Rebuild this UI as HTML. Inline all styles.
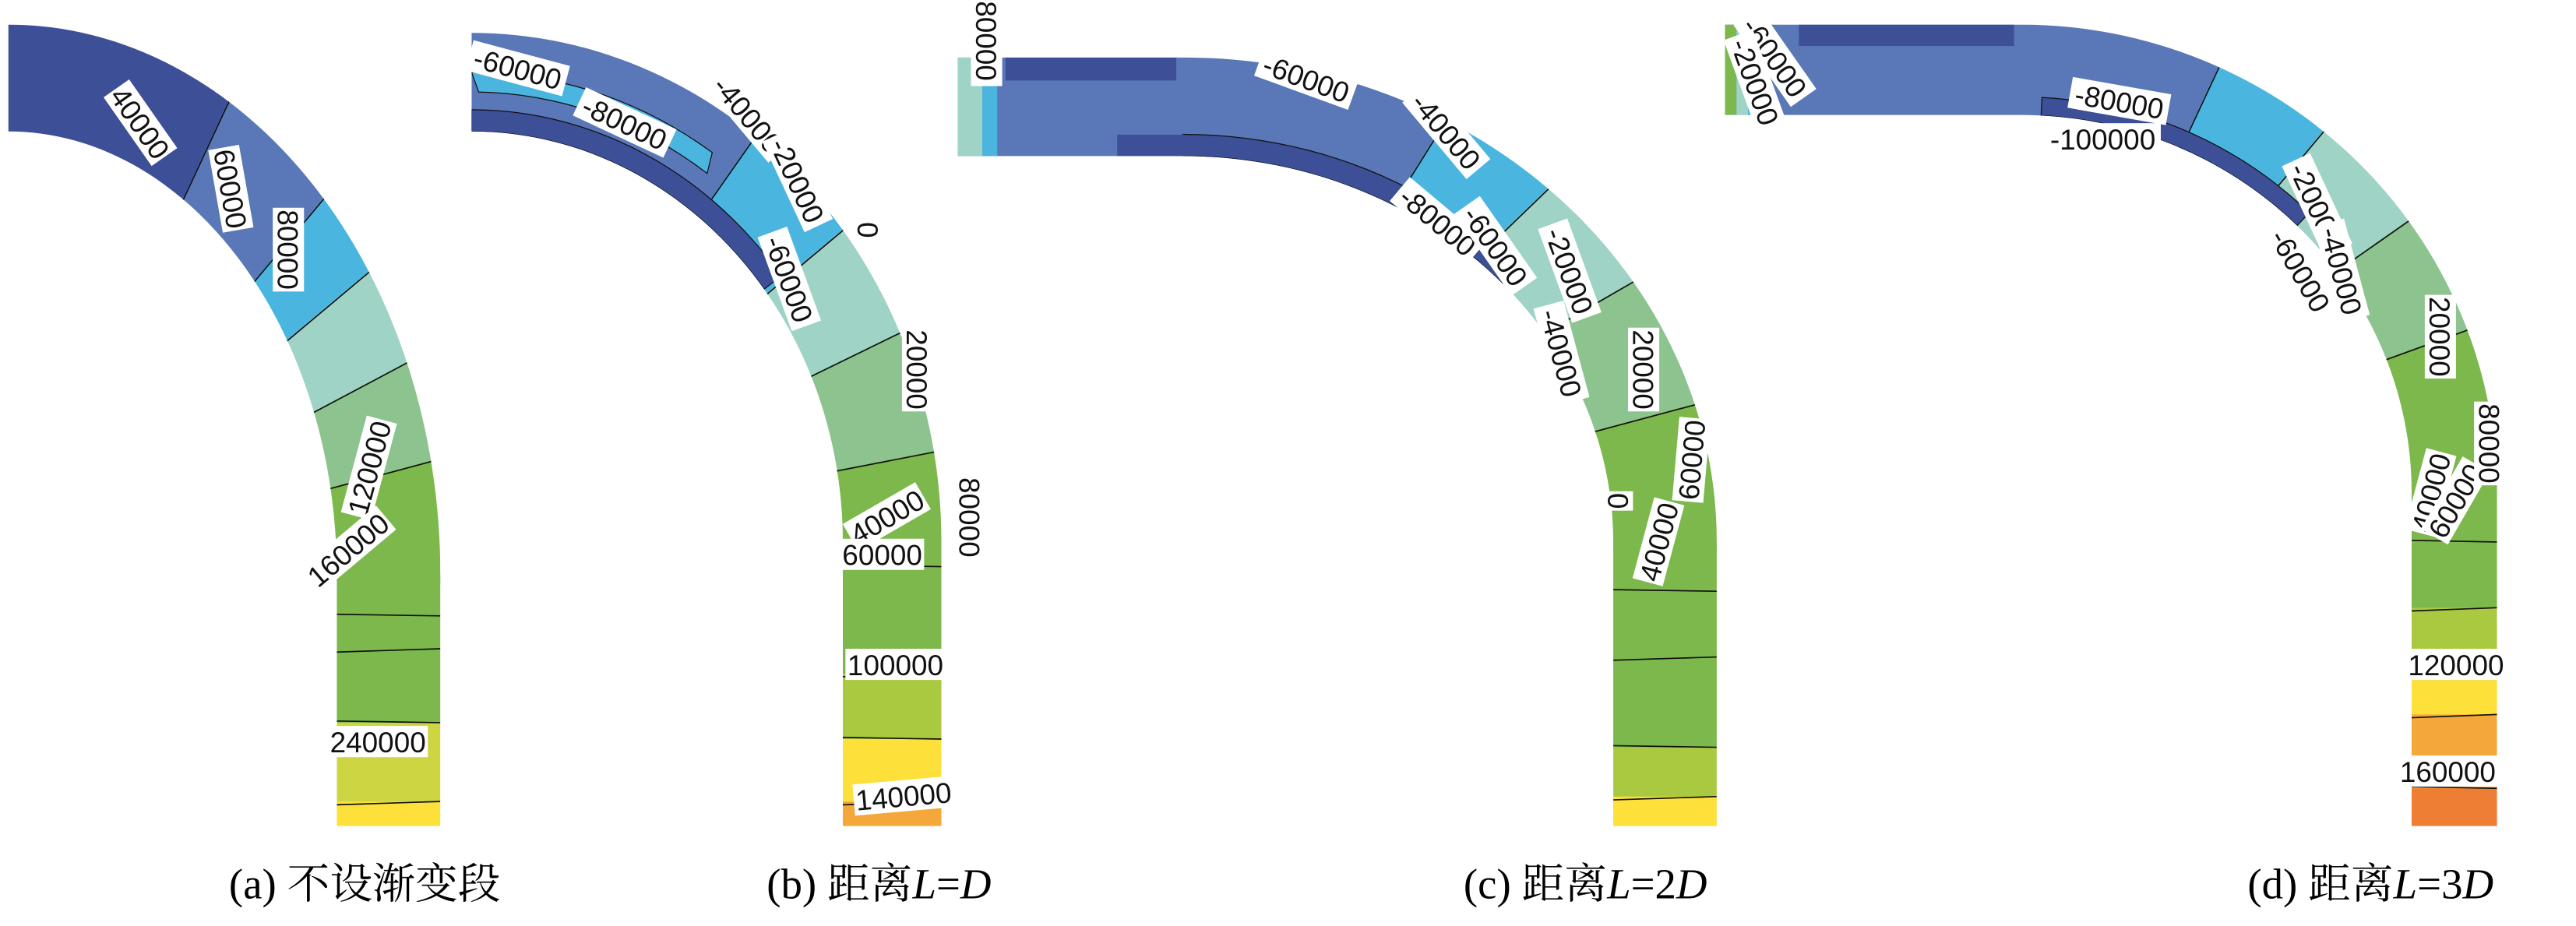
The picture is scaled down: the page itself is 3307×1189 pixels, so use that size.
<!DOCTYPE html>
<html><head><meta charset="utf-8">
<style>
html,body{margin:0;padding:0;background:#fff;}
svg{display:block;}
</style></head>
<body>
<svg id="s" width="3307" height="1189" viewBox="0 0 1568 563.8" xmlns="http://www.w3.org/2000/svg">
<rect width="1568" height="564" fill="#fff"/>
<g id="g"></g>
<g font-family="'Liberation Serif','Noto Serif CJK SC',serif" font-size="26" fill="#000" text-anchor="middle">
<text x="222" y="547">(a) 不设渐变段</text>
<text x="535" y="547">(b) 距离<tspan font-style="italic">L</tspan>=<tspan font-style="italic">D</tspan></text>
<text x="965" y="547">(c) 距离<tspan font-style="italic">L</tspan>=2<tspan font-style="italic">D</tspan></text>
<text x="1443" y="547">(d) 距离<tspan font-style="italic">L</tspan>=3<tspan font-style="italic">D</tspan></text>
</g>
</svg>
<script>
const NS="http://www.w3.org/2000/svg";
const G=document.getElementById('g');
const C={db:"#3d4f96",mb:"#5a78b8",lb:"#4ab6e0",te:"#9fd3c6",lg:"#8dc38e",gr:"#7cb84c",yg:"#a9c940",yl2:"#cdd542",ye:"#fde03a",or:"#f5a83a",do:"#ee7e34"};
function el(t,a,p){const e=document.createElementNS(NS,t);for(const k in a)e.setAttribute(k,a[k]);(p||G).appendChild(e);return e;}
const panels=[
 {id:'a',cx:5,cy:350,rxo:263,ryo:335,rxi:200,ryi:270,x0:5,bot:503,
  wedges:[[-90,25,C.db],[25,40,C.mb],[40,50,C.lb],[50,62,C.te],[62,75,C.lg],[75,91,C.gr]],
  strips:[],rects:[],
  bands:[[350,440,C.gr],[440,488,C.yl2],[488,503,C.ye]],hl:[375,395,440,488]},
 {id:'b',cx:287,cy:330,rxo:286,ryo:310,rxi:226,ryi:250,x0:287,bot:503,
  wedges:[[-90,35,C.mb],[35,50,C.lb],[50,64,C.te],[64,79,C.lg],[79,91,C.gr]],
  strips:[[0,52,0,22,C.db],[0,35,40,60,C.lb]],rects:[],
  bands:[[330,410,C.gr],[410,450,C.yg],[450,488,C.ye],[488,503,C.or]],hl:[345,410,450,488]},
 {id:'c',cx:720,cy:330,rxo:325,ryo:295,rxi:262,ryi:235,x0:583,bot:503,
  wedges:[[-90,32,C.mb],[32,46,C.lb],[46,60,C.te],[60,75,C.lg],[75,91,C.gr]],
  strips:[[0,48,0,22,C.db]],
  rects:[[583,598,35,95,C.te],[598,607,35,95,C.lb],[612,716,35,49,C.db],[680,721,82,95,C.db]],
  bands:[[330,455,C.gr],[455,485,C.yg],[485,503,C.ye]],hl:[360,400,455,485]},
 {id:'d',cx:1230,cy:300,rxo:290,ryo:285,rxi:238,ryi:230,x0:1050,bot:503,
  wedges:[[-90,25,C.mb],[25,40,C.lb],[40,55,C.te],[55,70,C.lg],[70,91,C.gr]],
  strips:[[3,45,0,20,C.db]],
  rects:[[1050,1057,15,70,C.gr],[1057,1064,15,70,C.te],[1064,1076,15,70,C.lb],[1095,1226,15,28,C.db]],
  bands:[[300,370,C.gr],[370,410,C.yg],[410,435,C.ye],[435,480,C.or],[480,503,C.do]],hl:[330,370,410,435,480]}
];
function pt(p,th,r){const t=th*Math.PI/180;return [p.cx+r*Math.sin(t),p.cy-r*Math.cos(t)];}
function ept(p,th,fo){const t=th*Math.PI/180;const rx=p.rxi+(p.rxo-p.rxi)*fo, ry=p.ryi+(p.ryo-p.ryi)*fo;
 return [p.cx+rx*Math.sin(t),p.cy-ry*Math.cos(t)];}
panels.forEach(p=>{
 const d=`M${p.x0},${p.cy-p.ryo} L${p.cx},${p.cy-p.ryo} A${p.rxo},${p.ryo} 0 0 1 ${p.cx+p.rxo},${p.cy} L${p.cx+p.rxo},${p.bot} L${p.cx+p.rxi},${p.bot} L${p.cx+p.rxi},${p.cy} A${p.rxi},${p.ryi} 0 0 0 ${p.cx},${p.cy-p.ryi} L${p.x0},${p.cy-p.ryi} Z`;
 const defs=el('defs',{});const cp=el('clipPath',{id:'cp'+p.id},defs);el('path',{d},cp);
 const g=el('g',{'clip-path':`url(#cp${p.id})`});
 p.wedges.forEach(w=>{
  const pts=[[p.cx,p.cy]];
  for(let a=w[0];a<=w[1];a+=2)pts.push(pt(p,a,1500));
  pts.push(pt(p,w[1],1500));
  el('polygon',{points:pts.map(q=>q.join(',')).join(' '),fill:w[2],stroke:w[2],'stroke-width':1.2},g);
 });
 p.wedges.forEach(w=>{
  if(w[0]>-89){const q=pt(p,w[0],1500);el('line',{x1:p.cx,y1:p.cy,x2:q[0],y2:q[1],stroke:'#111','stroke-width':0.8},g);}
 });
 p.strips.forEach(s=>{
  const [a1,a2,f1,f2,col]=s;const pts=[];
  for(let a=a1;a<=a2;a+=2)pts.push(ept(p,a,f2/100));
  pts.push(ept(p,a2,f1/100));
  for(let a=a2;a>=a1;a-=2)pts.push(ept(p,a,f1/100));
  el('polygon',{points:pts.map(q=>q.join(',')).join(' '),fill:col,stroke:'#111','stroke-width':0.6},g);
 });
 p.rects.forEach(r=>{el('rect',{x:r[0],y:r[2],width:r[1]-r[0],height:r[3]-r[2],fill:r[4]},g);});
 p.bands.forEach(b=>{el('rect',{x:p.cx+p.rxi-2,y:b[0],width:p.rxo-p.rxi+4,height:b[1]-b[0]+0.5,fill:b[2]},g);});
 p.hl.forEach((y,i)=>{el('path',{d:`M${p.cx+p.rxi},${y+(i%2?2:-1)} L${p.cx+p.rxo},${y}`,stroke:'#111','stroke-width':0.8,fill:'none'},g);});
});
const labels=[
 ["40000",85,75,55],["60000",140,115,80],["80000",175,152,90],["120000",225,285,-75],["160000",212,335,-40],["240000",230,452,0],
 ["-60000",315,42,15],["-80000",380,75,25],["-40000",455,70,50],["-20000",485,110,65],["0",528,140,90],["-60000",480,170,70],
 ["20000",558,225,90],["40000",540,315,-30],["60000",537,338,0],["80000",590,315,90],["100000",545,405,0],["140000",550,485,-5],
 ["-80000",600,22,90],["-60000",795,48,20],["-40000",880,80,50],["-80000",875,135,40],["-60000",910,150,55],["-20000",955,165,70],["-40000",950,215,75],
 ["20000",1000,225,90],["60000",1030,280,-85],["0",985,305,-90],["40000",1010,330,-75],
 ["-60000",1080,35,55],["-20000",1068,50,70],["-80000",1290,62,10],["-100000",1280,85,0],["-20000",1410,125,65],["-60000",1400,165,60],["-40000",1425,165,75],
 ["20000",1485,205,90],["40000",1480,300,-75],["60000",1495,305,-60],["80000",1515,270,90],["120000",1495,405,0],["160000",1490,470,0]
];
labels.forEach(l=>{
 const g=el('g',{transform:`translate(${l[1]},${l[2]}) rotate(${l[3]})`});
 const w=l[0].length*9.8+2;
 el('rect',{x:-w/2,y:-10,width:w,height:19,fill:'#fff'},g);
 const t=el('text',{x:0,y:6,'font-family':"'Liberation Sans',sans-serif",'font-size':17.5,'text-anchor':'middle',fill:'#111'},g);
 t.textContent=l[0];
});
</script>
</body></html>
